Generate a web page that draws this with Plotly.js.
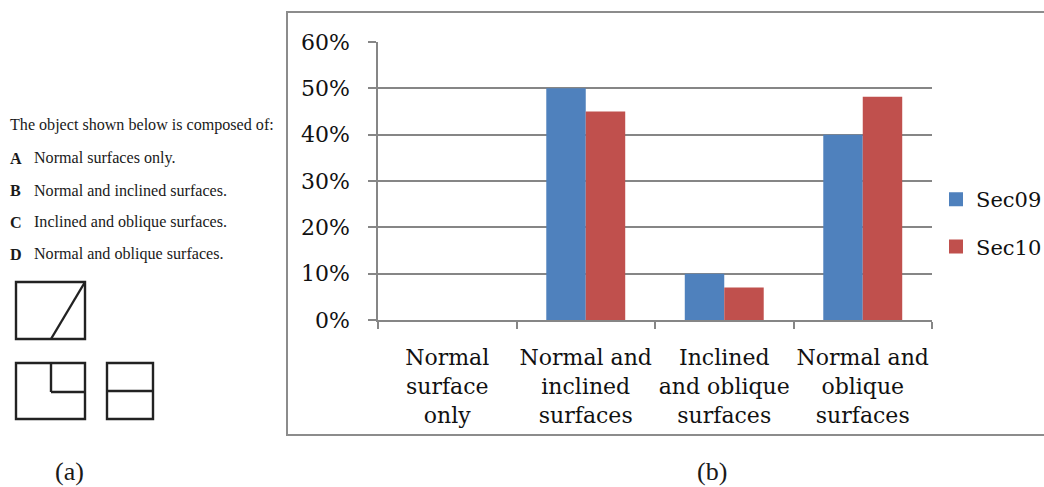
<!DOCTYPE html>
<html><head><meta charset="utf-8">
<script src="https://cdn.plot.ly/plotly-3.0.1.min.js"></script>
<style>html,body{margin:0;padding:0;background:#fff}#c{width:1044px;height:487px}</style>
</head><body><div id="c"></div>
<script>
const categories = ["Normal<br>surface<br>only","Normal and<br>inclined<br>surfaces","Inclined<br>and oblique<br>surfaces","Normal and<br>oblique<br>surfaces"];
const sec09 = [null, 50, 10, 40];
const sec10 = [null, 45, 7, 48.2];
const yTicks = [0,10,20,30,40,50,60];
const yTickLabels = ["0%","10%","20%","30%","40%","50%","60%"];
const questionLines = [["","The object shown below is composed of:"],["A","Normal surfaces only."],["B","Normal and inclined surfaces."],["C","Inclined and oblique surfaces."],["D","Normal and oblique surfaces."]];
const questionRows = [125,158,190,222,254];

const W=1044,H=487,L=378,R=932,T=42,B=320;
const px=x=>(x-L)/(R-L), py=y=>(B-y)/(B-T);
const SERIF='"DejaVu Serif", serif', TIMES='"Liberation Serif", serif', FS=22, gray='#868686';
const line=(x0,y0,x1,y1,c,w)=>({type:'line',xref:'paper',yref:'paper',x0:px(x0),y0:py(y0),x1:px(x1),y1:py(y1),line:{color:c,width:w},layer:'above'});
const rect=(x0,y0,x1,y1)=>({type:'rect',xref:'paper',yref:'paper',x0:px(x0),y0:py(y0),x1:px(x1),y1:py(y1),line:{color:'#222',width:2.4},fillcolor:'rgba(0,0,0,0)',layer:'above'});
const shapes=[
 line(287,12,1044,12,'#8c8c8c',2), line(287,11,287,436,'#8c8c8c',2), line(287,435,1044,435,'#8c8c8c',2),
 rect(16,282,85,339), line(51,339,85,282,'#222',2.4),
 rect(16,363,85,419), line(51,363,51,392,'#222',2.4), line(51,392,85,392,'#222',2.4),
 rect(107,363,153,419), line(107,391,153,391,'#222',2.4)
];
const ann=(x,y,t,size,extra={})=>Object.assign({xref:'paper',yref:'paper',x:px(x),y:py(y),text:t,showarrow:false,xanchor:'left',yanchor:'middle',font:{family:TIMES,size:size,color:'#1a1a1a'},borderpad:0},extra);
const annotations=[];
questionLines.forEach((q,i)=>{
  if(q[0]){annotations.push(ann(9,questionRows[i],'<b>'+q[0]+'</b>',16.1));annotations.push(ann(33,questionRows[i],q[1],16.1));}
  else annotations.push(ann(9,questionRows[i],q[1],16.1));
});
annotations.push(ann(69,471,'(a)',26,{xanchor:'center'}));
annotations.push(ann(712,471,'(b)',26,{xanchor:'center'}));

const bar=(name,y,c)=>({type:'bar',name:name,x:categories,y:y,legendgroup:name,
  marker:{color:c,line:{color:c,width:[2,0,0,0]}}});
Plotly.newPlot('c',[bar('Sec09',sec09,'#4f81bd'),bar('Sec10',sec10,'#c0504d')],{
  width:W,height:H,margin:{l:L,r:W-R,t:T,b:H-B,pad:0,autoexpand:false},paper_bgcolor:'#fff',plot_bgcolor:'#fff',
  barmode:'group',bargap:0.43,bargroupgap:0,showlegend:true,
  font:{family:SERIF,size:FS,color:'#111'},
  legend:{x:px(936),xanchor:'left',y:py(179),yanchor:'top',font:{family:SERIF,size:21,color:'#111'},traceorder:'grouped',tracegroupgap:17,bgcolor:'rgba(0,0,0,0)',itemclick:false},
  xaxis:{type:'category',automargin:false,tickson:'boundaries',ticks:'outside',ticklen:7,tickwidth:1.6,tickcolor:gray,showline:true,linecolor:gray,linewidth:2,showgrid:false,tickangle:0,tickfont:{family:SERIF,size:FS,color:'#111'},ticklabelstandoff:17,fixedrange:true},
  yaxis:{range:[0,60],automargin:false,tickmode:'array',tickvals:yTicks,ticktext:yTickLabels,ticks:'outside',ticklen:8,tickwidth:1.6,tickcolor:gray,showline:true,linecolor:gray,linewidth:1.6,showgrid:true,gridcolor:gray,gridwidth:1.6,zeroline:false,tickfont:{family:SERIF,size:FS,color:'#111'},ticklabelstandoff:14,fixedrange:true},
  shapes:shapes,annotations:annotations
},{displayModeBar:false,responsive:false});
</script></body></html>
